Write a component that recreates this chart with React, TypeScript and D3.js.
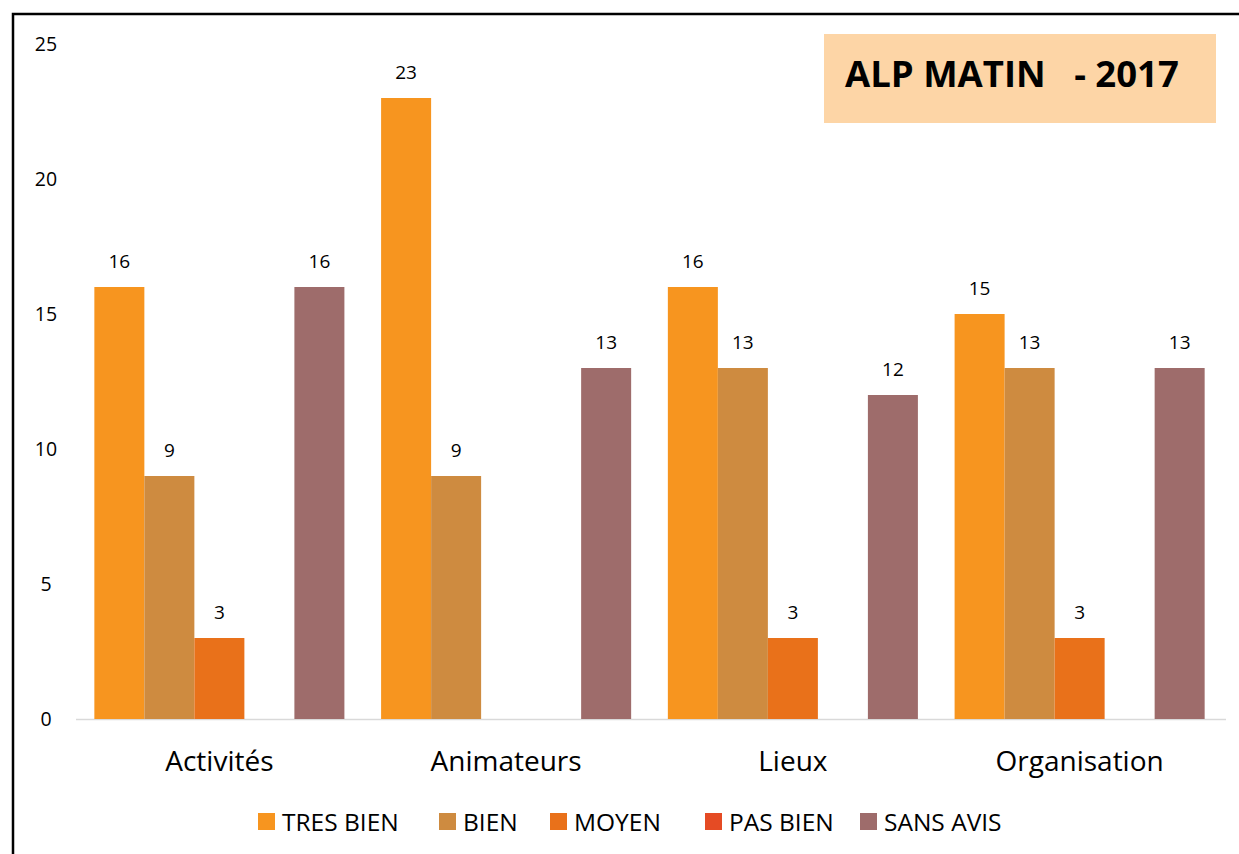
import React from "react";
import * as d3 from "d3";

const categories = ["Activités", "Animateurs", "Lieux", "Organisation"];
const seriesNames = ["TRES BIEN", "BIEN", "MOYEN", "PAS BIEN", "SANS AVIS"];
const seriesColors = ["#F7951F", "#CE8B40", "#E9711A", "#E54B24", "#9E6C6B"];
const tresBien: (number | null)[] = [16, 23, 16, 15];
const bien: (number | null)[] = [9, 9, 13, 13];
const moyen: (number | null)[] = [3, null, 3, 3];
const pasBien: (number | null)[] = [null, null, null, null];
const sansAvis: (number | null)[] = [16, 13, 12, 13];
const yTicks = [0, 5, 10, 15, 20, 25];
const title = "ALP MATIN   - 2017";

const allSeries = [tresBien, bien, moyen, pasBien, sansAvis];

const W = 1239;
const H = 854;
const FONT = "'Open Sans', 'Noto Sans', sans-serif";

export default function App() {
  const x0 = d3.scaleBand<string>().domain(categories).range([76, 1223]).paddingInner(0.128).paddingOuter(0.064);
  const x1 = d3.scaleBand<string>().domain(seriesNames).range([0, x0.bandwidth()]);
  const y = d3.scaleLinear().domain([0, 25]).range([719, 44]);

  const legendX = [258, 439, 550, 705, 860];

  return (
    <svg width={W} height={H} style={{ position: "absolute", left: 0, top: 0 }} fontFamily={FONT}>
      <rect x={0} y={0} width={W} height={H} fill="#fff" />
      <rect x={13} y={14} width={W + 20} height={H + 20} fill="none" stroke="#000" strokeWidth={2.5} />
      {yTicks.map((t) => (
        <text key={t} x={46} y={y(t)} dy="0.35em" fontSize={19.5} textAnchor="middle" fill="#000">
          {t}
        </text>
      ))}
      <line x1={76} x2={1226} y1={y(0) + 0.5} y2={y(0) + 0.5} stroke="#d9d9d9" strokeWidth={1.5} />
      {categories.map((c, ci) => (
        <g key={c} transform={`translate(${x0(c)},0)`}>
          {allSeries.map((s, si) => {
            const v = s[ci];
            if (v == null) return null;
            const bx = x1(seriesNames[si])!;
            return (
              <g key={si}>
                <rect x={bx} y={y(v)} width={x1.bandwidth()} height={y(0) - y(v)} fill={seriesColors[si]} />
                <text x={bx + x1.bandwidth() / 2} y={y(v) - 19} fontSize={19} textAnchor="middle" fill="#000">
                  {v}
                </text>
              </g>
            );
          })}
          <text x={x0.bandwidth() / 2} y={771} fontSize={28} textAnchor="middle" fill="#000">
            {c}
          </text>
        </g>
      ))}
      {seriesNames.map((n, i) => (
        <g key={n}>
          <rect x={legendX[i]} y={813} width={17} height={17} fill={seriesColors[i]} />
          <text x={legendX[i] + 24} y={831} fontSize={24.5} fill="#000">
            {n}
          </text>
        </g>
      ))}
      <rect x={824} y={34} width={392} height={89} fill="#FDD5A6" />
      <text x={845} y={87} fontSize={36.5} fontWeight="bold" fill="#000" style={{ whiteSpace: "pre" }}>
        {title}
      </text>
    </svg>
  );
}
